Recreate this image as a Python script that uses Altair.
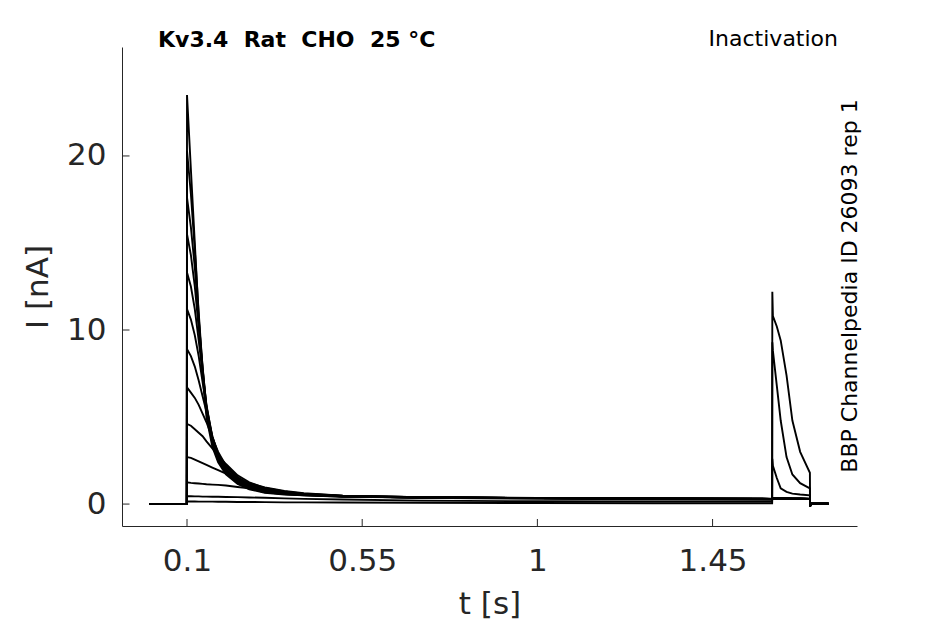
import altair as alt
import pandas as pd

# ---- data ----
t_hold = [0.003, 0.0995]
t_prepulse = [0.1, 0.11, 0.12, 0.13, 0.14, 0.15, 0.165, 0.18, 0.2, 0.23, 0.26,
              0.3, 0.35, 0.4, 0.5, 0.7, 1.0, 1.3, 1.603]
t_test = [1.6035, 1.605, 1.615, 1.625, 1.64, 1.655, 1.675, 1.7, 1.7005, 1.703, 1.748]

hold_nA = [0.0, 0.0]

prepulse_nA = [
    [23.5, 19.2, 15.0, 10.8, 7.4, 5.0, 3.3, 2.4, 1.7, 1.15, 0.85, 0.65, 0.55, 0.5, 0.42, 0.38, 0.35, 0.33, 0.3],
    [20.3, 17.8, 14.6, 11.0, 7.8, 5.3, 3.5, 2.5, 1.8, 1.2, 0.9, 0.68, 0.57, 0.5, 0.43, 0.38, 0.35, 0.33, 0.3],
    [17.6, 15.9, 13.6, 10.6, 7.9, 5.5, 3.6, 2.6, 1.85, 1.25, 0.93, 0.7, 0.58, 0.52, 0.44, 0.38, 0.35, 0.32, 0.3],
    [15.5, 14.3, 12.5, 10.1, 7.8, 5.6, 3.7, 2.7, 1.9, 1.3, 0.96, 0.72, 0.6, 0.53, 0.44, 0.38, 0.35, 0.32, 0.3],
    [13.3, 12.5, 11.2, 9.4, 7.5, 5.7, 3.8, 2.75, 1.95, 1.35, 1.0, 0.75, 0.62, 0.54, 0.45, 0.38, 0.34, 0.32, 0.3],
    [11.2, 10.6, 9.7, 8.5, 7.0, 5.6, 3.9, 2.8, 2.0, 1.4, 1.05, 0.78, 0.64, 0.55, 0.45, 0.38, 0.34, 0.31, 0.29],
    [8.9, 8.5, 7.9, 7.1, 6.2, 5.3, 3.9, 2.9, 2.1, 1.5, 1.1, 0.82, 0.66, 0.57, 0.46, 0.39, 0.34, 0.31, 0.29],
    [6.7, 6.4, 6.1, 5.7, 5.2, 4.7, 3.8, 3.0, 2.2, 1.55, 1.15, 0.86, 0.68, 0.58, 0.47, 0.39, 0.34, 0.31, 0.29],
    [4.6, 4.5, 4.3, 4.1, 3.9, 3.6, 3.2, 2.8, 2.3, 1.65, 1.25, 0.92, 0.72, 0.6, 0.48, 0.4, 0.35, 0.31, 0.29],
    [2.7, 2.65, 2.55, 2.45, 2.35, 2.25, 2.1, 1.95, 1.75, 1.45, 1.2, 0.95, 0.75, 0.62, 0.48, 0.4, 0.34, 0.3, 0.28],
    [1.25, 1.22, 1.2, 1.18, 1.16, 1.14, 1.12, 1.1, 1.07, 0.98, 0.9, 0.78, 0.66, 0.57, 0.45, 0.36, 0.3, 0.27, 0.25],
    [0.45, 0.45, 0.44, 0.44, 0.43, 0.43, 0.42, 0.42, 0.41, 0.4, 0.38, 0.36, 0.33, 0.3, 0.26, 0.2, 0.16, 0.15, 0.14],
    [0.15, 0.15, 0.15, 0.14, 0.14, 0.14, 0.14, 0.13, 0.13, 0.12, 0.12, 0.11, 0.1, 0.1, 0.09, 0.08, 0.06, 0.05, 0.05],
]

test_flat = [0.35, 0.33, 0.32, 0.32, 0.32, 0.31, 0.31, 0.3, -0.1, 0.02, 0.02]
test_nA = [test_flat] * 10 + [
    [2.6, 2.2, 1.5, 0.9, 0.7, 0.6, 0.55, 0.5, -0.15, 0.02, 0.02],
    [9.3, 8.8, 6.8, 4.8, 2.7, 1.7, 1.2, 0.9, -0.15, 0.02, 0.02],
    [12.2, 10.8, 10.2, 9.4, 7.4, 4.8, 3.0, 1.8, -0.15, 0.02, 0.02],
]

x_ticks = [0.1, 0.55, 1, 1.45]
y_ticks = [0, 10, 20]

# ---- build long table ----
rows = []
times = t_hold + t_prepulse + t_test
for k in range(len(prepulse_nA)):
    vals = hold_nA + prepulse_nA[k] + test_nA[k]
    for i, (t, v) in enumerate(zip(times, vals)):
        rows.append({"trace": k, "i": i, "t": t, "I": v})
df = pd.DataFrame(rows)

FONT = "DejaVu Sans"
INK = "#262626"
W, H = 735, 479

xscale = alt.Scale(domain=[-0.067, 1.821], nice=False, zero=False)
yscale = alt.Scale(domain=[-1.26, 26.26], nice=False, zero=False)

lines = alt.Chart(df).mark_line(color="black", strokeWidth=1.9).encode(
    x=alt.X("t:Q", scale=xscale,
            axis=alt.Axis(values=x_ticks, labelExpr="'' + datum.value", title="t [s]", ticks=False,
                          grid=False, labelPadding=20, titlePadding=13)),
    y=alt.Y("I:Q", scale=yscale,
            axis=alt.Axis(values=y_ticks, format="d", title="I [nA]", ticks=False,
                          grid=False, labelPadding=16, titlePadding=12)),
    detail="trace:N",
    order="i:Q",
)

xt = alt.Chart(pd.DataFrame({"v": x_ticks})).mark_rule(color=INK, strokeWidth=1).encode(
    x=alt.X("v:Q", scale=xscale), y=alt.value(H), y2=alt.value(H - 7))
yt = alt.Chart(pd.DataFrame({"v": y_ticks})).mark_rule(color=INK, strokeWidth=1).encode(
    y=alt.Y("v:Q", scale=yscale), x=alt.value(0), x2=alt.value(7.5))

title = alt.Chart(pd.DataFrame({"s": ["Kv3.4\u00a0\u00a0Rat\u00a0\u00a0CHO\u00a0\u00a025\u00a0°C"]})).mark_text(
    font=FONT, fontSize=22, fontWeight="bold", align="left", baseline="alphabetic", color="black"
).encode(text="s:N", x=alt.value(36), y=alt.value(0))

inact = alt.Chart(pd.DataFrame({"s": ["Inactivation"]})).mark_text(
    font=FONT, fontSize=22, align="right", baseline="alphabetic", color="black"
).encode(text="s:N", x=alt.value(716), y=alt.value(-1))

side = alt.Chart(pd.DataFrame({"s": ["BBP Channelpedia ID 26093 rep 1"]})).mark_text(
    font=FONT, fontSize=22, align="center", baseline="middle", angle=270, color="black"
).encode(text="s:N", x=alt.value(728), y=alt.value(239))

chart = alt.layer(lines, xt, yt, title, inact, side).properties(
    width=W, height=H,
    autosize=alt.AutoSizeParams(type="none"),
    padding={"left": 114, "top": 39, "right": 80, "bottom": 98},
).configure_view(stroke=None).configure_axis(
    domainColor=INK, domainWidth=1, labelColor=INK, titleColor=INK,
    labelFont=FONT, titleFont=FONT, labelFontSize=31, titleFontSize=31,
    titleFontWeight="normal",
)

chart.save("out.html", embed_options={"renderer": "svg", "actions": False})
